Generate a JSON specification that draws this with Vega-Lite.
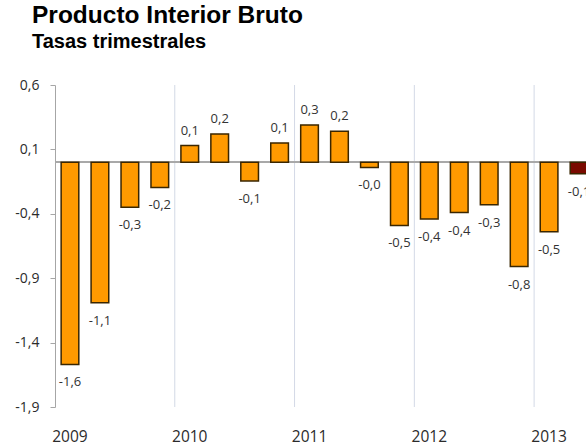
{
  "$schema": "https://vega.github.io/schema/vega-lite/v6.json",
  "autosize": "none",
  "padding": {"left": 55, "top": 85, "right": 0, "bottom": 40},
  "width": 539,
  "height": 322,
  "background": "white",
  "title": {
    "text": "Producto Interior Bruto",
    "subtitle": "Tasas trimestrales",
    "anchor": "start",
    "frame": "group",
    "dx": -23,
    "offset": 25,
    "font": "Liberation Sans",
    "fontSize": 24.5,
    "fontWeight": "bold",
    "color": "#000000",
    "subtitleFont": "Liberation Sans",
    "subtitleFontSize": 20,
    "subtitleFontWeight": "bold",
    "subtitleColor": "#000000",
    "subtitlePadding": 4
  },
  "config": {"view": {"stroke": null}},
  "data": {
    "values": [
      {"periodo": "2009 T1", "anio": "2009", "t": 1, "valor": -1.57, "etiqueta": "-1,6", "tipo": "a"},
      {"periodo": "2009 T2", "anio": "2009", "t": 2, "valor": -1.09, "etiqueta": "-1,1", "tipo": "a"},
      {"periodo": "2009 T3", "anio": "2009", "t": 3, "valor": -0.35, "etiqueta": "-0,3", "tipo": "a"},
      {"periodo": "2009 T4", "anio": "2009", "t": 4, "valor": -0.195, "etiqueta": "-0,2", "tipo": "a"},
      {"periodo": "2010 T1", "anio": "2010", "t": 1, "valor": 0.13, "etiqueta": "0,1", "tipo": "a"},
      {"periodo": "2010 T2", "anio": "2010", "t": 2, "valor": 0.22, "etiqueta": "0,2", "tipo": "a"},
      {"periodo": "2010 T3", "anio": "2010", "t": 3, "valor": -0.145, "etiqueta": "-0,1", "tipo": "a"},
      {"periodo": "2010 T4", "anio": "2010", "t": 4, "valor": 0.15, "etiqueta": "0,1", "tipo": "a"},
      {"periodo": "2011 T1", "anio": "2011", "t": 1, "valor": 0.29, "etiqueta": "0,3", "tipo": "a"},
      {"periodo": "2011 T2", "anio": "2011", "t": 2, "valor": 0.24, "etiqueta": "0,2", "tipo": "a"},
      {"periodo": "2011 T3", "anio": "2011", "t": 3, "valor": -0.04, "etiqueta": "-0,0", "tipo": "a"},
      {"periodo": "2011 T4", "anio": "2011", "t": 4, "valor": -0.49, "etiqueta": "-0,5", "tipo": "a"},
      {"periodo": "2012 T1", "anio": "2012", "t": 1, "valor": -0.44, "etiqueta": "-0,4", "tipo": "a"},
      {"periodo": "2012 T2", "anio": "2012", "t": 2, "valor": -0.39, "etiqueta": "-0,4", "tipo": "a"},
      {"periodo": "2012 T3", "anio": "2012", "t": 3, "valor": -0.33, "etiqueta": "-0,3", "tipo": "a"},
      {"periodo": "2012 T4", "anio": "2012", "t": 4, "valor": -0.81, "etiqueta": "-0,8", "tipo": "a"},
      {"periodo": "2013 T1", "anio": "2013", "t": 1, "valor": -0.54, "etiqueta": "-0,5", "tipo": "a"},
      {"periodo": "2013 T2", "anio": "2013", "t": 2, "valor": -0.09, "etiqueta": "-0,1", "tipo": "b"}
    ]
  },
  "layer": [
    {
      "mark": {"type": "bar", "width": {"band": 0.59}, "fillOpacity": 0, "strokeOpacity": 0},
      "encoding": {
        "x": {
          "field": "periodo",
          "type": "ordinal",
          "sort": null,
          "scale": {
            "domain": ["2009 T1", "2009 T2", "2009 T3", "2009 T4", "2010 T1", "2010 T2", "2010 T3", "2010 T4", "2011 T1", "2011 T2", "2011 T3", "2011 T4", "2012 T1", "2012 T2", "2012 T3", "2012 T4", "2013 T1", "2013 T2"],
            "paddingInner": 0,
            "paddingOuter": 0
          },
          "axis": {
            "title": null,
            "domain": false,
            "ticks": false,
            "labelAngle": 0,
            "labelPadding": 22,
            "labelFont": "Open Sans",
            "labelFontSize": 15.5,
            "labelColor": "#2b2b2b",
            "labelExpr": "slice(datum.value, 5) == 'T1' ? slice(datum.value, 0, 4) : ''"
          }
        },
        "y": {
          "field": "valor",
          "type": "quantitative",
          "scale": {"domain": [-1.9, 0.6], "nice": false, "zero": false},
          "axis": {
            "title": null,
            "values": [0.6, 0.1, -0.4, -0.9, -1.4, -1.9],
            "labelExpr": "replace(replace(format(datum.value, '.1f'), '.', ','), '\u2212', '-')",
            "grid": false,
            "domainColor": "#a6a6a6",
            "tickColor": "#a6a6a6",
            "tickSize": 5,
            "labelPadding": 11,
            "labelFont": "Open Sans",
            "labelFontSize": 14,
            "labelColor": "#2b2b2b"
          }
        },
        "y2": {"datum": 0}
      }
    },
    {
      "transform": [{"filter": "datum.t == 1 && datum.anio != '2009'"}],
      "mark": {"type": "rule", "color": "#d3d9e6", "strokeWidth": 1},
      "encoding": {
        "x": {"field": "periodo", "type": "ordinal", "sort": null, "bandPosition": 0}
      }
    },
    {
      "mark": {"type": "rule", "color": "#a8a8a8", "strokeWidth": 1},
      "encoding": {"y": {"datum": 0}}
    },
    {
      "mark": {"type": "bar", "width": {"band": 0.59}, "stroke": "#3a2600", "strokeWidth": 1.5},
      "encoding": {
        "x": {"field": "periodo", "type": "ordinal", "sort": null},
        "y": {"field": "valor", "type": "quantitative"},
        "y2": {"datum": 0},
        "color": {
          "field": "tipo",
          "type": "nominal",
          "scale": {"domain": ["a", "b"], "range": ["#ff9a00", "#7a0a00"]},
          "legend": null
        }
      }
    },
    {
      "transform": [{"filter": "datum.valor < 0"}],
      "mark": {"type": "text", "baseline": "middle", "align": "center", "dy": 18, "font": "Open Sans", "fontSize": 13, "color": "#333333"},
      "encoding": {
        "x": {"field": "periodo", "type": "ordinal", "sort": null},
        "y": {"field": "valor", "type": "quantitative"},
        "text": {"field": "etiqueta"}
      }
    },
    {
      "transform": [{"filter": "datum.valor >= 0"}],
      "mark": {"type": "text", "baseline": "middle", "align": "center", "dy": -15, "font": "Open Sans", "fontSize": 13, "color": "#333333"},
      "encoding": {
        "x": {"field": "periodo", "type": "ordinal", "sort": null},
        "y": {"field": "valor", "type": "quantitative"},
        "text": {"field": "etiqueta"}
      }
    }
  ]
}
